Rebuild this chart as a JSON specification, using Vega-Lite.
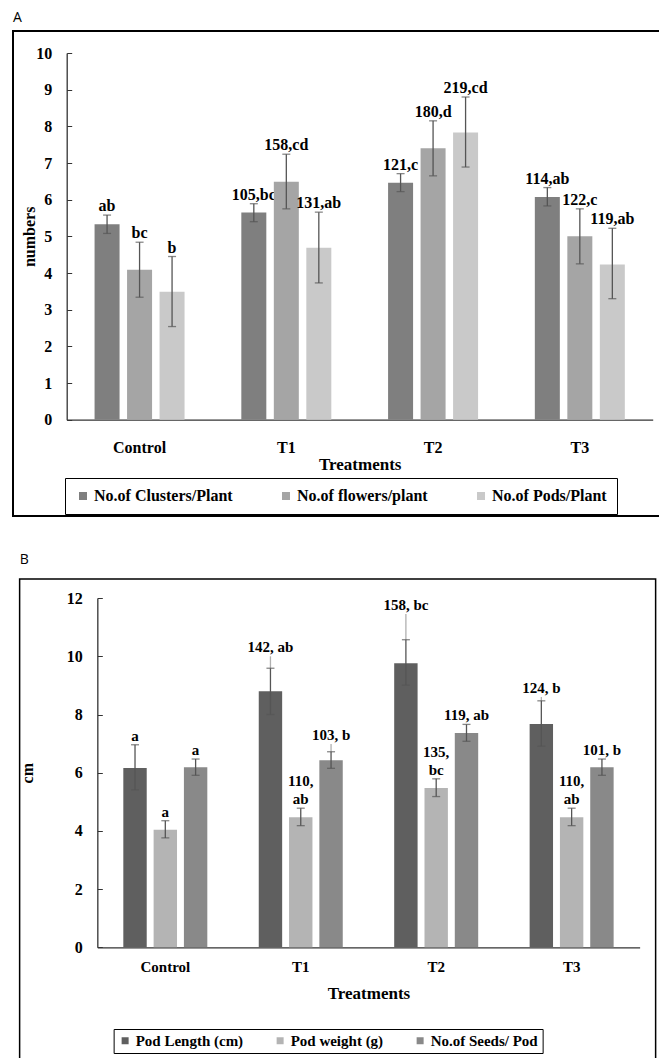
{
  "$schema": "https://vega.github.io/schema/vega-lite/v6.json",
  "background": "white",
  "padding": {"left": 12, "top": 10, "right": 0, "bottom": 0},
  "datasets": {
    "a": [
      {"t": "Control", "s": "No.of Clusters/Plant", "v": 5.33, "lo": 5.08, "hi": 5.58, "lab": "ab"},
      {"t": "Control", "s": "No.of flowers/plant", "v": 4.09, "lo": 3.34, "hi": 4.84, "lab": "bc"},
      {"t": "Control", "s": "No.of Pods/Plant", "v": 3.49, "lo": 2.54, "hi": 4.45, "lab": "b"},
      {"t": "T1", "s": "No.of Clusters/Plant", "v": 5.65, "lo": 5.4, "hi": 5.89, "lab": "105,bc"},
      {"t": "T1", "s": "No.of flowers/plant", "v": 6.49, "lo": 5.75, "hi": 7.24, "lab": "158,cd"},
      {"t": "T1", "s": "No.of Pods/Plant", "v": 4.69, "lo": 3.73, "hi": 5.66, "lab": "131,ab"},
      {"t": "T2", "s": "No.of Clusters/Plant", "v": 6.46, "lo": 6.22, "hi": 6.71, "lab": "121,c"},
      {"t": "T2", "s": "No.of flowers/plant", "v": 7.4, "lo": 6.65, "hi": 8.15, "lab": "180,d"},
      {"t": "T2", "s": "No.of Pods/Plant", "v": 7.83, "lo": 6.89, "hi": 8.8, "lab": "219,cd"},
      {"t": "T3", "s": "No.of Clusters/Plant", "v": 6.07, "lo": 5.83, "hi": 6.33, "lab": "114,ab"},
      {"t": "T3", "s": "No.of flowers/plant", "v": 5.0, "lo": 4.25, "hi": 5.75, "lab": "122,c"},
      {"t": "T3", "s": "No.of Pods/Plant", "v": 4.23, "lo": 3.3, "hi": 5.22, "lab": "119,ab"}
    ],
    "b": [
      {"t": "Control", "s": "Pod Length (cm)", "v": 6.16, "lo": 5.41, "hi": 6.96, "ext": 6.96, "lab": "a", "lab_top": ""},
      {"t": "Control", "s": "Pod weight (g)", "v": 4.04, "lo": 3.76, "hi": 4.35, "ext": 4.35, "lab": "a", "lab_top": ""},
      {"t": "Control", "s": "No.of Seeds/ Pod", "v": 6.19, "lo": 5.91, "hi": 6.47, "ext": 6.47, "lab": "a", "lab_top": ""},
      {"t": "T1", "s": "Pod Length (cm)", "v": 8.8, "lo": 8.0, "hi": 9.59, "ext": 10.0, "lab": "142, ab", "lab_top": ""},
      {"t": "T1", "s": "Pod weight (g)", "v": 4.47, "lo": 4.18, "hi": 4.78, "ext": 4.78, "lab": "ab", "lab_top": "110,"},
      {"t": "T1", "s": "No.of Seeds/ Pod", "v": 6.43, "lo": 6.15, "hi": 6.72, "ext": 6.99, "lab": "103, b", "lab_top": ""},
      {"t": "T2", "s": "Pod Length (cm)", "v": 9.76, "lo": 9.01, "hi": 10.57, "ext": 11.45, "lab": "158, bc", "lab_top": ""},
      {"t": "T2", "s": "Pod weight (g)", "v": 5.47, "lo": 5.18, "hi": 5.79, "ext": 5.79, "lab": "bc", "lab_top": "135,"},
      {"t": "T2", "s": "No.of Seeds/ Pod", "v": 7.36, "lo": 7.08, "hi": 7.66, "ext": 7.66, "lab": "119, ab", "lab_top": ""},
      {"t": "T3", "s": "Pod Length (cm)", "v": 7.67, "lo": 6.91, "hi": 8.47, "ext": 8.6, "lab": "124, b", "lab_top": ""},
      {"t": "T3", "s": "Pod weight (g)", "v": 4.47, "lo": 4.18, "hi": 4.78, "ext": 4.78, "lab": "ab", "lab_top": "110,"},
      {"t": "T3", "s": "No.of Seeds/ Pod", "v": 6.19, "lo": 5.91, "hi": 6.47, "ext": 6.47, "lab": "101, b", "lab_top": ""}
    ]
  },
  "vconcat": [
    {
      "title": {"text": "A", "anchor": "start", "frame": "group", "font": "Open Sans", "fontSize": 14, "fontWeight": "normal", "color": "black", "offset": 6},
      "width": 649,
      "height": 485,
      "view": {"stroke": "black", "strokeWidth": 2},
      "data": {"name": "a"},
      "encoding": {
        "x": {"field": "t", "type": "nominal", "title": "Treatments",
          "scale": {"type": "band", "range": [53.7, 639.7], "paddingInner": 0.387, "paddingOuter": 0.19},
          "axis": {"orient": "bottom", "offset": -96.3, "labelAngle": 0, "ticks": false, "labelPadding": 20, "labelFontSize": 16, "titleFontSize": 17, "titlePadding": 1, "domainColor": "#333333", "domainWidth": 1.3}}
      },
      "layer": [
        {
          "transform": [{"filter": {"field": "s", "equal": "No.of Clusters/Plant"}}],
          "layer": [
            {"mark": {"type": "bar", "width": 25, "xOffset": -32.5},
             "encoding": {
               "y": {"field": "v", "type": "quantitative", "title": "numbers",
                 "scale": {"domain": [0, 10], "range": [388.7, 22], "nice": false, "zero": true},
                 "axis": {"offset": -53.7, "values": [0, 1, 2, 3, 4, 5, 6, 7, 8, 9, 10], "tickSize": -5, "labelPadding": 20, "labelFontSize": 16, "titleFontSize": 16, "titlePadding": -2, "domainColor": "#333333", "domainWidth": 1.3, "tickColor": "#333333"}},
               "color": {"field": "s", "type": "nominal",
                 "scale": {"domain": ["No.of Clusters/Plant", "No.of flowers/plant", "No.of Pods/Plant"], "range": ["#7f7f7f", "#a5a5a5", "#c9c9c9"]},
                 "legend": {"orient": "none", "legendX": 52, "legendY": 447, "direction": "horizontal", "title": null, "strokeColor": "black", "padding": 10, "columnPadding": 45, "symbolType": "square", "symbolSize": 64, "symbolStrokeWidth": 0, "labelFont": "Liberation Serif", "labelFontWeight": "bold", "labelFontSize": 16, "labelColor": "black", "labelLimit": 300, "labelOffset": 3}}}},
            {"mark": {"type": "rule", "color": "#555555", "strokeWidth": 1.3, "xOffset": -32.5},
             "encoding": {"y": {"field": "lo", "type": "quantitative", "title": "numbers"}, "y2": {"field": "hi"}}},
            {"mark": {"type": "tick", "color": "#555555", "thickness": 1.3, "size": 8, "xOffset": -32.5},
             "encoding": {"y": {"field": "lo", "type": "quantitative", "title": "numbers"}}},
            {"mark": {"type": "tick", "color": "#555555", "thickness": 1.3, "size": 8, "xOffset": -32.5},
             "encoding": {"y": {"field": "hi", "type": "quantitative", "title": "numbers"}}},
            {"mark": {"type": "text", "baseline": "bottom", "dy": -1, "xOffset": -32.5, "fontSize": 16, "font": "Liberation Serif", "fontWeight": "bold", "color": "black"},
             "encoding": {"y": {"field": "hi", "type": "quantitative", "title": "numbers"}, "text": {"field": "lab", "type": "nominal"}}}
          ]
        },
        {
          "transform": [{"filter": {"field": "s", "equal": "No.of flowers/plant"}}],
          "layer": [
            {"mark": {"type": "bar", "width": 25},
             "encoding": {
               "y": {"field": "v", "type": "quantitative", "title": "numbers"},
               "color": {"field": "s", "type": "nominal"}}},
            {"mark": {"type": "rule", "color": "#555555", "strokeWidth": 1.3},
             "encoding": {"y": {"field": "lo", "type": "quantitative", "title": "numbers"}, "y2": {"field": "hi"}}},
            {"mark": {"type": "tick", "color": "#555555", "thickness": 1.3, "size": 8},
             "encoding": {"y": {"field": "lo", "type": "quantitative", "title": "numbers"}}},
            {"mark": {"type": "tick", "color": "#555555", "thickness": 1.3, "size": 8},
             "encoding": {"y": {"field": "hi", "type": "quantitative", "title": "numbers"}}},
            {"mark": {"type": "text", "baseline": "bottom", "dy": -1, "fontSize": 16, "font": "Liberation Serif", "fontWeight": "bold", "color": "black"},
             "encoding": {"y": {"field": "hi", "type": "quantitative", "title": "numbers"}, "text": {"field": "lab", "type": "nominal"}}}
          ]
        },
        {
          "transform": [{"filter": {"field": "s", "equal": "No.of Pods/Plant"}}],
          "layer": [
            {"mark": {"type": "bar", "width": 25, "xOffset": 32.5},
             "encoding": {
               "y": {"field": "v", "type": "quantitative", "title": "numbers"},
               "color": {"field": "s", "type": "nominal"}}},
            {"mark": {"type": "rule", "color": "#555555", "strokeWidth": 1.3, "xOffset": 32.5},
             "encoding": {"y": {"field": "lo", "type": "quantitative", "title": "numbers"}, "y2": {"field": "hi"}}},
            {"mark": {"type": "tick", "color": "#555555", "thickness": 1.3, "size": 8, "xOffset": 32.5},
             "encoding": {"y": {"field": "lo", "type": "quantitative", "title": "numbers"}}},
            {"mark": {"type": "tick", "color": "#555555", "thickness": 1.3, "size": 8, "xOffset": 32.5},
             "encoding": {"y": {"field": "hi", "type": "quantitative", "title": "numbers"}}},
            {"mark": {"type": "text", "baseline": "bottom", "dy": -1, "xOffset": 32.5, "fontSize": 16, "font": "Liberation Serif", "fontWeight": "bold", "color": "black"},
             "encoding": {"y": {"field": "hi", "type": "quantitative", "title": "numbers"}, "text": {"field": "lab", "type": "nominal"}}}
          ]
        }
      ]
    },
    {
      "title": {"text": "B", "anchor": "start", "frame": "group", "font": "Open Sans", "fontSize": 14, "fontWeight": "normal", "color": "black", "offset": 12},
      "width": 636,
      "height": 490,
      "view": {"stroke": "black", "strokeWidth": 1.5},
      "data": {"name": "b"},
      "encoding": {
        "x": {"field": "t", "type": "nominal", "title": "Treatments",
          "scale": {"type": "band", "range": [77.7, 620], "paddingInner": 0.38, "paddingOuter": 0.192},
          "axis": {"orient": "bottom", "offset": -121.7, "labelAngle": 0, "ticks": false, "labelPadding": 12, "labelFontSize": 15, "titleFontSize": 17, "titlePadding": 11, "domainColor": "#333333", "domainWidth": 1.3}}
      },
      "layer": [
        {
          "transform": [{"filter": {"field": "s", "equal": "Pod Length (cm)"}}],
          "layer": [
            {"mark": {"type": "bar", "width": 23.4, "xOffset": -30.3},
             "encoding": {
               "y": {"field": "v", "type": "quantitative", "title": "cm",
                 "scale": {"domain": [0, 12], "range": [368.3, 19.1], "nice": false, "zero": true},
                 "axis": {"offset": -77.7, "values": [0, 2, 4, 6, 8, 10, 12], "tickSize": -5, "labelPadding": 20, "labelFontSize": 16, "titleFontSize": 16, "titlePadding": 31, "domainColor": "#333333", "domainWidth": 1.3, "tickColor": "#333333"}},
               "color": {"field": "s", "type": "nominal",
                 "scale": {"domain": ["Pod Length (cm)", "Pod weight (g)", "No.of Seeds/ Pod"], "range": ["#5f5f5f", "#b4b4b4", "#898989"]},
                 "legend": {"orient": "none", "legendX": 94, "legendY": 450, "direction": "horizontal", "title": null, "strokeColor": "black", "padding": 4, "columnPadding": 29, "symbolType": "square", "symbolSize": 49, "symbolStrokeWidth": 0, "labelFont": "Liberation Serif", "labelFontWeight": "bold", "labelFontSize": 15, "labelColor": "black", "labelLimit": 300, "labelOffset": 3}}}},
            {"mark": {"type": "rule", "color": "#b0b0b0", "strokeWidth": 1.3, "xOffset": -30.3},
             "encoding": {"y": {"field": "hi", "type": "quantitative", "title": "cm"}, "y2": {"field": "ext"}}},
            {"mark": {"type": "rule", "color": "#555555", "strokeWidth": 1.3, "xOffset": -30.3},
             "encoding": {"y": {"field": "lo", "type": "quantitative", "title": "cm"}, "y2": {"field": "hi"}}},
            {"mark": {"type": "tick", "color": "#555555", "thickness": 1.3, "size": 8, "xOffset": -30.3},
             "encoding": {"y": {"field": "lo", "type": "quantitative", "title": "cm"}}},
            {"mark": {"type": "tick", "color": "#555555", "thickness": 1.3, "size": 8, "xOffset": -30.3},
             "encoding": {"y": {"field": "hi", "type": "quantitative", "title": "cm"}}},
            {"mark": {"type": "text", "baseline": "bottom", "dy": -1, "xOffset": -30.3, "fontSize": 15, "font": "Liberation Serif", "fontWeight": "bold", "color": "black"},
             "encoding": {"y": {"field": "ext", "type": "quantitative", "title": "cm"}, "text": {"field": "lab", "type": "nominal"}}}
          ]
        },
        {
          "transform": [{"filter": {"field": "s", "equal": "Pod weight (g)"}}],
          "layer": [
            {"mark": {"type": "bar", "width": 23.4},
             "encoding": {
               "y": {"field": "v", "type": "quantitative", "title": "cm"},
               "color": {"field": "s", "type": "nominal"}}},
            {"mark": {"type": "rule", "color": "#555555", "strokeWidth": 1.3},
             "encoding": {"y": {"field": "lo", "type": "quantitative", "title": "cm"}, "y2": {"field": "hi"}}},
            {"mark": {"type": "tick", "color": "#555555", "thickness": 1.3, "size": 8},
             "encoding": {"y": {"field": "lo", "type": "quantitative", "title": "cm"}}},
            {"mark": {"type": "tick", "color": "#555555", "thickness": 1.3, "size": 8},
             "encoding": {"y": {"field": "hi", "type": "quantitative", "title": "cm"}}},
            {"mark": {"type": "text", "baseline": "bottom", "dy": -1, "fontSize": 15, "font": "Liberation Serif", "fontWeight": "bold", "color": "black"},
             "encoding": {"y": {"field": "ext", "type": "quantitative", "title": "cm"}, "text": {"field": "lab", "type": "nominal"}}},
            {"mark": {"type": "text", "baseline": "bottom", "dy": -19, "fontSize": 15, "font": "Liberation Serif", "fontWeight": "bold", "color": "black"},
             "encoding": {"y": {"field": "ext", "type": "quantitative", "title": "cm"}, "text": {"field": "lab_top", "type": "nominal"}}}
          ]
        },
        {
          "transform": [{"filter": {"field": "s", "equal": "No.of Seeds/ Pod"}}],
          "layer": [
            {"mark": {"type": "bar", "width": 23.4, "xOffset": 30.3},
             "encoding": {
               "y": {"field": "v", "type": "quantitative", "title": "cm"},
               "color": {"field": "s", "type": "nominal"}}},
            {"mark": {"type": "rule", "color": "#b0b0b0", "strokeWidth": 1.3, "xOffset": 30.3},
             "encoding": {"y": {"field": "hi", "type": "quantitative", "title": "cm"}, "y2": {"field": "ext"}}},
            {"mark": {"type": "rule", "color": "#555555", "strokeWidth": 1.3, "xOffset": 30.3},
             "encoding": {"y": {"field": "lo", "type": "quantitative", "title": "cm"}, "y2": {"field": "hi"}}},
            {"mark": {"type": "tick", "color": "#555555", "thickness": 1.3, "size": 8, "xOffset": 30.3},
             "encoding": {"y": {"field": "lo", "type": "quantitative", "title": "cm"}}},
            {"mark": {"type": "tick", "color": "#555555", "thickness": 1.3, "size": 8, "xOffset": 30.3},
             "encoding": {"y": {"field": "hi", "type": "quantitative", "title": "cm"}}},
            {"mark": {"type": "text", "baseline": "bottom", "dy": -1, "xOffset": 30.3, "fontSize": 15, "font": "Liberation Serif", "fontWeight": "bold", "color": "black"},
             "encoding": {"y": {"field": "ext", "type": "quantitative", "title": "cm"}, "text": {"field": "lab", "type": "nominal"}}}
          ]
        }
      ]
    }
  ],
  "spacing": 35,
  "center": true,
  "resolve": {"scale": {"color": "independent"}, "legend": {"color": "independent"}},
  "config": {
    "axis": {"labelFont": "Liberation Serif", "titleFont": "Liberation Serif", "labelFontWeight": "bold", "titleFontWeight": "bold", "labelColor": "black", "titleColor": "black", "grid": false}
  }
}
